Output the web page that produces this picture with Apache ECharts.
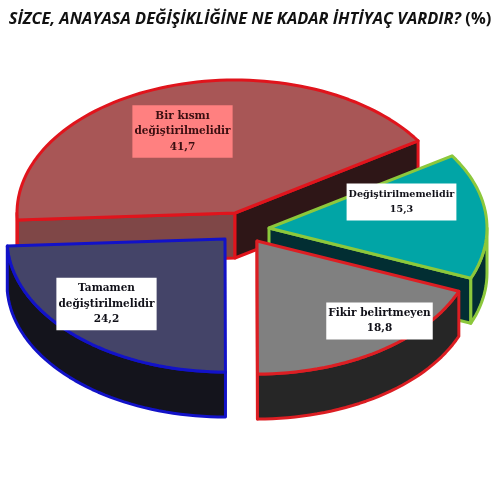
<!DOCTYPE html>
<html><head><meta charset="utf-8">
<style>html,body{margin:0;padding:0;background:#fff}#c{width:500px;height:500px}</style>
<script src="https://cdn.jsdelivr.net/npm/echarts@6/dist/echarts.min.js"></script>
</head><body><div id="c"></div>
<script>
const categories = ['Bir kısmı\ndeğiştirilmelidir', 'Değiştirilmemelidir', 'Fikir belirtmeyen', 'Tamamen\ndeğiştirilmelidir'];
const values = [41.7, 15.3, 18.8, 24.2];
const titleMain = 'SİZCE, ANAYASA DEĞİŞİKLİĞİNE NE KADAR İHTİYAÇ VARDIR?';
const titleUnit = ' (%)';

// layout and style only
const apex = [[235,213],[269,228],[257,241],[225,239]];
const labelPos = [[182.5,131.5],[401.5,202],[379.5,321],[106.5,304]];
const labelFont = [10.5,9.6,10.5,10.5];
const topFill = ['#A85656','#01A5A6','#808080','#444468'];
const wallFill = ['#7F4747','#022E33','#262626','#14141C'];
const cutFill = ['#2E1617','#022E33','#262626','#14141C'];
const strokes = ['#E0141C','#8CC83C','#DC1E23','#1212C8'];
const labelBg = ['#FF8080','#FFFFFF','#FFFFFF','#FFFFFF'];
const labelCol = ['#3A0E10','#101018','#101018','#101018'];
const RX = 218, RY = 133, DEPTH = 45, START = 183, LW = 3;

const total = values.reduce((a,b)=>a+b,0);
function pt(c,deg,dz){const r=deg*Math.PI/180;return [c[0]+RX*Math.cos(r),c[1]-RY*Math.sin(r)+(dz||0)];}
function arc(c,a,b,dz){const n=Math.max(2,Math.ceil(Math.abs(a-b)/2)),o=[];for(let i=0;i<=n;i++)o.push(pt(c,a+(b-a)*i/n,dz));return o;}
function poly(points,fill,stroke){return {type:'polygon',shape:{points},style:{fill,stroke,lineWidth:LW,lineJoin:'round'}};}

function renderItem(params,api){
  const i=params.dataIndex,c=apex[i];
  let before=0;for(let k=0;k<i;k++)before+=values[k];
  const t1=START-before/total*360, t2=t1-api.value(0)/total*360;
  const below=[c[0],c[1]+DEPTH], ch=[];
  const cos=d=>Math.cos(d*Math.PI/180);
  // cut faces that turn toward the viewer
  if(cos(t1)<-1e-3) ch.push(poly([c,pt(c,t1),pt(c,t1,DEPTH),below],wallFill[i],strokes[i]));
  if(cos(t2)>1e-3) ch.push(poly([c,pt(c,t2),pt(c,t2,DEPTH),below],cutFill[i],strokes[i]));
  // rim: the stretches of the arc facing the viewer
  [[Math.min(t1,0),Math.max(t2,-180)],[t1,Math.max(t2,180)]].forEach(function(r){
    if(r[0]>r[1]) ch.push(poly(arc(c,r[0],r[1]).concat(arc(c,r[1],r[0],DEPTH)),wallFill[i],strokes[i]));
  });
  // top face
  ch.push(poly([c].concat(arc(c,t1,t2)),topFill[i],strokes[i]));
  return {type:'group',children:ch};
}
function renderLabel(params,api){
  const i=params.dataIndex;
  return {type:'text',z2:100,style:{
    x:labelPos[i][0],y:labelPos[i][1],align:'center',verticalAlign:'middle',
    text:categories[i]+'\n'+String(api.value(0)).replace('.',','),
    font:'bold '+labelFont[i]+'px "DejaVu Serif"',lineHeight:15.5,fill:labelCol[i],
    backgroundColor:labelBg[i],padding:[3,2,3,2]
  }};
}
const chart=echarts.init(document.getElementById('c'),null,{renderer:'canvas'});
chart.setOption({
  animation:false,backgroundColor:'#fff',
  title:{left:'center',top:6,text:'{a|'+titleMain+'}{b|'+titleUnit+'}',
    textStyle:{rich:{
      a:{fontFamily:'"Open Sans"',fontWeight:'bold',fontStyle:'italic',fontSize:16.4,color:'#111'},
      b:{fontFamily:'"Open Sans"',fontWeight:'bold',fontSize:16.4,color:'#111'}}}},
  series:[
    {type:'custom',coordinateSystem:'none',renderItem,data:values.map(v=>[v]),silent:true,z:1},
    {type:'custom',coordinateSystem:'none',renderItem:renderLabel,data:values.map(v=>[v]),silent:true,z:2}
  ]
});
</script></body></html>
